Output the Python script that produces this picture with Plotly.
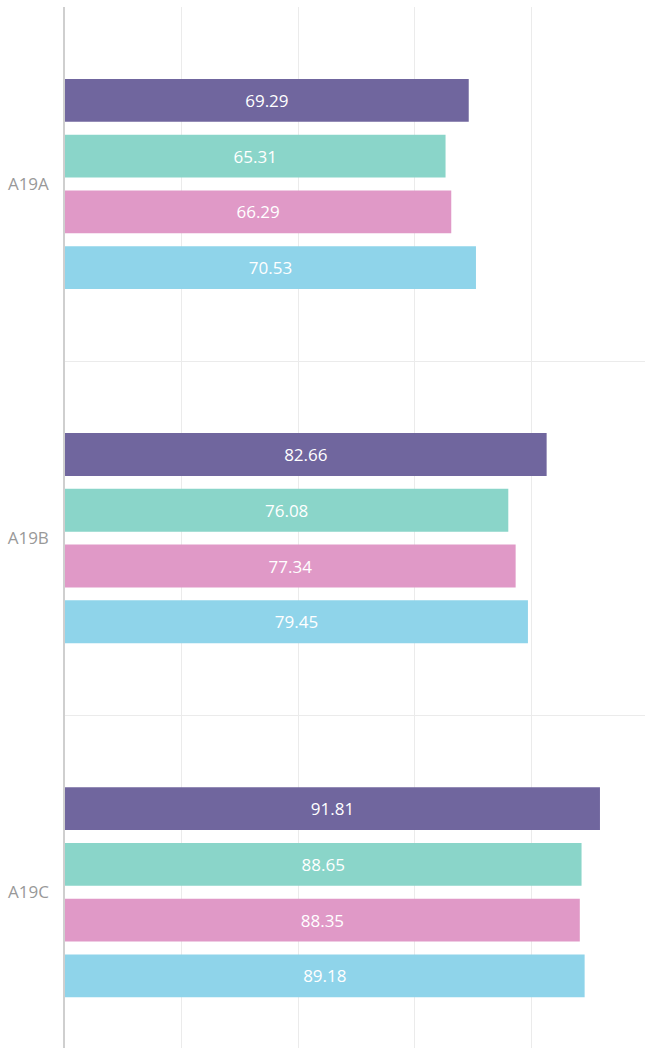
import plotly.graph_objects as go

categories = ["A19A", "A19B", "A19C"]
series_names = ["Series 1", "Series 2", "Series 3", "Series 4"]
series_values = [
    [69.29, 82.66, 91.81],
    [65.31, 76.08, 88.65],
    [66.29, 77.34, 88.35],
    [70.53, 79.45, 89.18],
]
colors = ["#70669e", "#8ad5c9", "#e099c7", "#8fd4ea"]

fig = go.Figure()
for name, vals, col in zip(series_names, series_values, colors):
    fig.add_trace(go.Bar(
        y=categories, x=vals, name=name, orientation="h",
        marker=dict(color=col, line=dict(width=0)),
        text=[f"{v:.2f}" for v in vals],
        textposition="inside", insidetextanchor="middle",
        textfont=dict(color="white", size=17, family="Open Sans"),
        cliponaxis=False,
    ))

fig.update_layout(
    width=645, height=1048,
    margin=dict(l=65, r=0, t=7, b=0),
    plot_bgcolor="white", paper_bgcolor="white",
    barmode="group", bargap=0.37, bargroupgap=0.232,
    showlegend=False,
    uniformtext=dict(mode=False),
)
fig.update_xaxes(
    range=[0, 99.54], showticklabels=False, ticks="",
    dtick=20, showgrid=True, gridcolor="#ebebeb", gridwidth=1,
    zeroline=False, showline=False, fixedrange=True,
)
fig.update_yaxes(
    type="category", categoryorder="array", categoryarray=categories,
    range=[2.44, -0.5], tickson="boundaries",
    showgrid=True, gridcolor="#ebebeb", gridwidth=1,
    showline=True, linecolor="#cfcfcf", linewidth=1.5,
    ticks="", ticklabelstandoff=11,
    tickfont=dict(color="#999999", size=17, family="Open Sans"),
    zeroline=False, fixedrange=True,
)

fig.write_html(
    "out.html",
    config={"displayModeBar": False},
    post_script="document.body.style.margin='0';document.body.style.overflow='hidden';",
)
